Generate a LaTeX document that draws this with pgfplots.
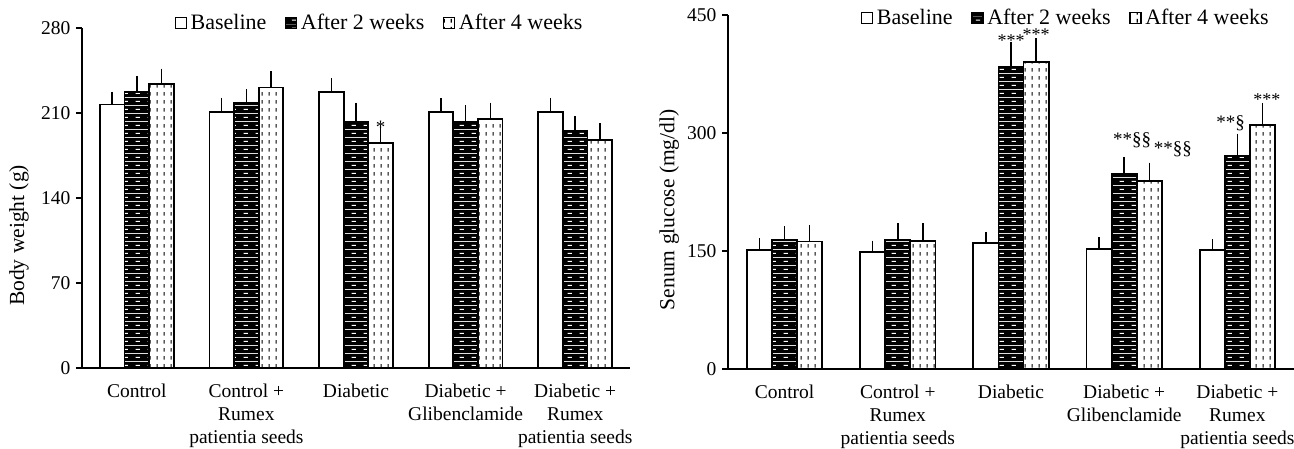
\documentclass[border=0pt]{standalone}
\usepackage{pgfplots}
\pgfplotsset{compat=1.18}
\usepackage{fontspec}
\setmainfont{Liberation Serif}
\usetikzlibrary{patterns}

\pgfdeclarepatterninherentlycolored{blackdash}{\pgfqpoint{0pt}{0pt}}{\pgfqpoint{12pt}{8pt}}{\pgfqpoint{12pt}{8pt}}{%
 \pgfsetfillcolor{black}%
 \pgfpathrectangle{\pgfqpoint{0pt}{0pt}}{\pgfqpoint{12pt}{8pt}}\pgfusepath{fill}%
 \pgfsetstrokecolor{white}\pgfsetlinewidth{1.1pt}%
 \pgfpathmoveto{\pgfqpoint{4pt}{4pt}}\pgfpathlineto{\pgfqpoint{8.5pt}{4pt}}\pgfusepath{stroke}%
}
\pgfdeclarepatternformonly{vdash}{\pgfqpoint{0pt}{0pt}}{\pgfqpoint{7pt}{8pt}}{\pgfqpoint{7pt}{8pt}}{%
 \pgfsetlinewidth{1.2pt}%
 \pgfpathmoveto{\pgfqpoint{3.5pt}{1.5pt}}\pgfpathlineto{\pgfqpoint{3.5pt}{5.5pt}}%
 \pgfusepath{stroke}%
}

\pgfplotstableread{
x y e
0 217 6
1 211 7
2 227 7
3 211 7
4 211 7
}\bwbase
\pgfplotstableread{
x y e
0 227 9
1 218 7
2 203 11
3 203 9
4 195 8
}\bwtwo
\pgfplotstableread{
x y e
0 234 8
1 231 9
2 185 11
3 205 9
4 188 9
}\bwfour
\pgfplotstableread{
x y e
0 151 8.5
1 149 7.3
2 159.7 7.6
3 153 7.3
4 151.6 6.4
}\glbase
\pgfplotstableread{
x y e
0 164 10.5
1 164 14
2 384.6 24.2
3 247.8 15.2
4 270.3 22
}\gltwo
\pgfplotstableread{
x y e
0 162.2 14
1 162.7 15.3
2 390.2 23
3 238.5 17
4 309.7 21.2
}\glfour

\pgfplotsset{
 mybar/.style={
  scale only axis, ybar=0pt, xmin=-0.5, xmax=4.5, ymin=0,
  axis x line*=bottom, axis y line*=left,
  axis line style={line width=1.5pt},
  xtick={0,...,4}, x tick style={draw=none},
  major tick length=6pt, y tick style={line width=1.5pt, black}, tick align=outside,
  yticklabel style={font=\fontsize{19.5}{23}\selectfont, xshift=-2pt},
  xticklabel style={font=\fontsize{19.5}{23}\selectfont, align=center, anchor=north, yshift=-6pt},
  /pgf/number format/assume math mode=true,
  xticklabels={Control, {Control +\\Rumex\\patientia seeds}, Diabetic, {Diabetic +\\Glibenclamide}, {Diabetic +\\Rumex\\patientia seeds}},
  error bars/y dir=plus, error bars/y explicit,
  error bars/error bar style={line width=1.5pt, black, solid},
  error bars/error mark options={line width=1.5pt, mark size=5.5pt, black, solid},
  legend columns=3,
  legend style={draw=none, fill=none, font=\fontsize{22}{26}\selectfont,
    nodes={inner xsep=1.5pt, inner ysep=0pt},
    /tikz/every odd column/.append style={column sep=2pt},
    /tikz/every even column/.append style={column sep=17pt}},
  legend image code/.code={\draw[#1, line width=1.6pt] (0pt,-5.5pt) rectangle (11pt,5.5pt);},
  ylabel style={font=\fontsize{21.5}{25}\selectfont, rotate=0, anchor=center},
 },
 bbase/.style={draw=black, fill=white, line width=1.8pt},
 btwo/.style={draw=black, line width=1.8pt, pattern=blackdash},
 bfour/.style={draw=black, fill=white, line width=1.8pt, postaction={pattern=vdash, pattern color=black}},
}

\begin{document}
\begin{tikzpicture}
\useasboundingbox (0,0) rectangle (1294pt,448pt);
\begin{axis}[mybar, at={(82pt,80pt)}, anchor=south west, width=548pt, height=340pt,
  ymax=280, ytick={0,70,...,280}, bar width=0.225,
  ylabel={Body weight (g)}, ylabel style={at={(axis description cs:-0.115,0.39)}},
  legend style={at={(axis description cs:0.163,1.015)}, anchor=west}]
\addplot[bbase, error bars/.cd, y dir=plus, y explicit] table[x=x, y=y, y error=e] {\bwbase};
\addplot[btwo, error bars/.cd, y dir=plus, y explicit] table[x=x, y=y, y error=e] {\bwtwo};
\addplot[bfour, error bars/.cd, y dir=plus, y explicit] table[x=x, y=y, y error=e] {\bwfour};
\legend{Baseline, After 2 weeks, After 4 weeks}
\node[font=\fontsize{19}{21}\selectfont] at (axis cs:2.225,198.5) {*};
\end{axis}
\begin{axis}[mybar, at={(728pt,79pt)}, anchor=south west, width=566pt, height=354pt,
  ymax=450, ytick={0,150,...,450}, bar width=0.222,
  ylabel={Senum glucose (mg/dl)}, ylabel style={at={(axis description cs:-0.104,0.45)}},
  legend style={at={(axis description cs:0.229,0.992)}, anchor=west}]
\addplot[bbase, error bars/.cd, y dir=plus, y explicit] table[x=x, y=y, y error=e] {\glbase};
\addplot[btwo, error bars/.cd, y dir=plus, y explicit] table[x=x, y=y, y error=e] {\gltwo};
\addplot[bfour, error bars/.cd, y dir=plus, y explicit] table[x=x, y=y, y error=e] {\glfour};
\legend{Baseline\hspace{20pt}, After 2 weeks, After 4 weeks}
\node[font=\fontsize{18}{20}\selectfont, inner ysep=1pt] at (axis cs:2,417.7) {***};
\node[font=\fontsize{18}{20}\selectfont, inner ysep=1pt] at (axis cs:2.222,425.5) {***};
\node[font=\fontsize{19}{21}\selectfont] at (axis cs:3.07,291) {**§§};
\node[font=\fontsize{19}{21}\selectfont] at (axis cs:3.43,279) {**§§};
\node[font=\fontsize{19}{21}\selectfont] at (axis cs:3.94,313) {**§};
\node[font=\fontsize{18}{20}\selectfont] at (axis cs:4.26,342) {***};
\end{axis}
\end{tikzpicture}
\end{document}
